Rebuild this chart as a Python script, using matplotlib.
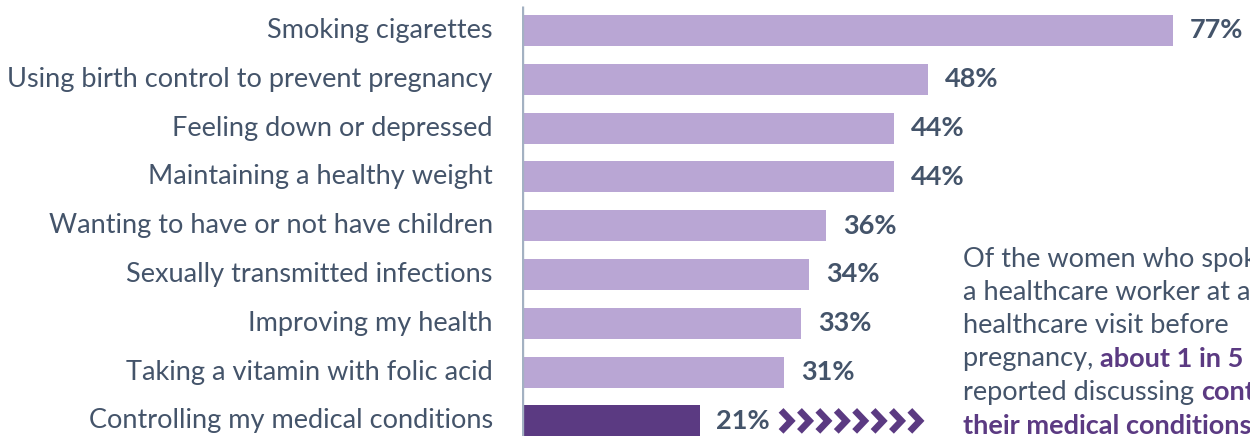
import matplotlib.pyplot as plt
import numpy as np

topics = [
    "Smoking cigarettes",
    "Using birth control to prevent pregnancy",
    "Feeling down or depressed",
    "Maintaining a healthy weight",
    "Wanting to have or not have children",
    "Sexually transmitted infections",
    "Improving my health",
    "Taking a vitamin with folic acid",
    "Controlling my medical conditions",
]
percent = [77, 48, 44, 44, 36, 34, 33, 31, 21]
highlight = "Controlling my medical conditions"

LIGHT = "#b9a6d4"
DARK = "#5b3a82"
TEXT = "#44546a"
AXIS = "#a3b1c2"
FONT = "Lato"

fig = plt.figure(figsize=(12.5, 4.36), dpi=100)
ax = fig.add_axes([522 / 1250, 0, 728 / 1250, 1])

y = np.arange(len(topics))
colors = [DARK if t == highlight else LIGHT for t in topics]
ax.barh(y, percent, height=0.635, color=colors, zorder=2)

ax.set_xlim(0, 728 / 8.455)
ax.set_ylim(8.31, -0.625)
ax.axis("off")
ax.plot([0, 0], [-0.5, 8.31], color=AXIS, lw=2.4, zorder=3, solid_capstyle="butt")

# category names to the left of the axis
for yi, name in zip(y, topics):
    ax.annotate(name, xy=(0, yi), xytext=(-21, 0), textcoords="offset points",
                ha="right", va="center", fontsize=19.5, color=TEXT, family=FONT,
                annotation_clip=False)

# value labels after each bar
for yi, v in zip(y, percent):
    ax.annotate(f"{v}%", xy=(v, yi), xytext=(12, 0), textcoords="offset points",
                ha="left", va="center", fontsize=19.5, color=TEXT, family=FONT,
                fontweight="bold", annotation_clip=False)

# row of chevrons after the highlighted bar
hi = topics.index(highlight)
px = 1 / 8.455          # data units per pixel along x
py = 1 / 48.8           # data units per pixel along y
for k in range(8):
    xc = percent[hi] + (87 + 18.4 * k) * px
    ax.plot([xc - 5.5 * px, xc + 4.5 * px, xc - 5.5 * px],
            [hi - 10.5 * py, hi, hi + 10.5 * py],
            color=DARK, lw=4.8, solid_joinstyle="miter",
            solid_capstyle="butt", clip_on=False, zorder=3)

# callout text
lines = [
    [("Of the women who spoke to", False)],
    [("a healthcare worker at a", False)],
    [("healthcare visit before", False)],
    [("pregnancy, ", False), ("about 1 in 5", True)],
    [("reported discussing ", False), ("controlling", True)],
    [("their medical conditions", True)],
]
x0, y0, dy = 963 / 1250, 1 - 259 / 436, 33.3 / 436
for i, parts in enumerate(lines):
    prev = None
    for txt, bold in parts:
        kw = dict(fontsize=19.5, family=FONT, va="center",
                  color=DARK if bold else TEXT,
                  fontweight="bold" if bold else "normal")
        if prev is None:
            prev = fig.text(x0, y0 - i * dy, txt, ha="left", **kw)
        else:
            prev = ax.annotate(txt, xy=(1, 0.5), xycoords=prev, ha="left",
                               annotation_clip=False, **kw)

fig.savefig("out.png", dpi=100)
